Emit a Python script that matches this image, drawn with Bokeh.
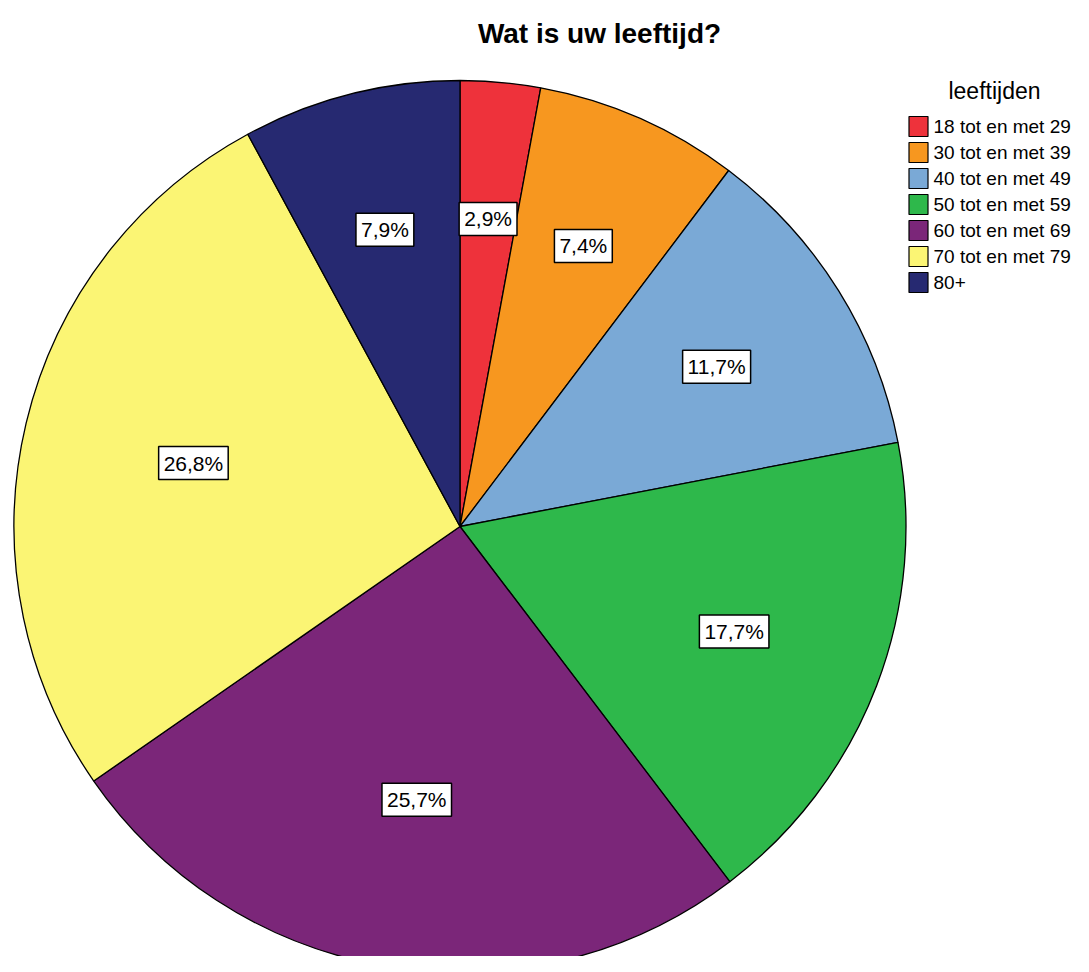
import math
from bokeh.plotting import figure
from bokeh.models import Range1d, ColumnDataSource
from bokeh.core.properties import value
from bokeh.embed import file_html
from bokeh.resources import INLINE

# ---- data ----
title_text = "Wat is uw leeftijd?"
legend_title = "leeftijden"
categories = ["18 tot en met 29", "30 tot en met 39", "40 tot en met 49",
              "50 tot en met 59", "60 tot en met 69", "70 tot en met 79", "80+"]
percentages = [2.9, 7.4, 11.7, 17.7, 25.7, 26.8, 7.9]
colors = ["#ee323b", "#f7971f", "#7aa9d6", "#2eb84b", "#7b2679", "#fbf574", "#262971"]

# ---- layout (pixel-like data units) ----
W, H = 1073, 956
cx_screen, cy_screen = 459.5, 526.0
R = 446
FONT = "Liberation Sans"

p = figure(width=W, height=H, output_backend="svg", toolbar_location=None,
           x_range=Range1d(0 - cx_screen, W - cx_screen),
           y_range=Range1d(cy_screen - H, cy_screen),
           min_border=0)
p.axis.visible = False
p.grid.visible = False
p.outline_line_color = None
p.background_fill_color = "white"
p.border_fill_color = "white"

total = sum(percentages)
starts, ends, lx, ly, labels = [], [], [], [], []
cum = 0.0
for v in percentages:
    a0 = math.pi / 2 - 2 * math.pi * cum / total
    cum += v
    a1 = math.pi / 2 - 2 * math.pi * cum / total
    starts.append(a0)
    ends.append(a1)
    mid = (a0 + a1) / 2
    half = (a0 - a1) / 2
    rc = 1.04 * 2 * R * math.sin(half) / (3 * half)  # sector centroid distance
    lx.append(rc * math.cos(mid))
    ly.append(rc * math.sin(mid))
    labels.append(("%.1f%%" % v).replace(".", ","))

src = ColumnDataSource(dict(start=starts, end=ends, color=colors,
                            lx=lx, ly=ly, label=labels, cat=categories))

p.wedge(x=0, y=0, radius=R, start_angle="start", end_angle="end",
        direction="clock", fill_color="color", line_color="black",
        line_width=1.3, source=src)

p.text(x="lx", y="ly", text="label", source=src,
       text_font=value(FONT), text_font_size="21px",
       text_align="center", text_baseline="middle", text_color="black",
       background_fill_color="white", border_line_color="black",
       border_line_width=1.5, padding=5)

# title
p.text(x=[599 - cx_screen], y=[cy_screen - 33], text=[title_text],
       text_font=value(FONT), text_font_size="28px", text_font_style="bold",
       text_align="center", text_baseline="middle", text_color="black")

# legend
p.text(x=[994 - cx_screen], y=[cy_screen - 90], text=[legend_title],
       text_font=value(FONT), text_font_size="23px",
       text_align="center", text_baseline="middle", text_color="black")

row_y = [cy_screen - (126 + 26 * i) for i in range(len(categories))]
leg = ColumnDataSource(dict(y=row_y, color=colors, cat=categories,
                            bx=[918 - cx_screen] * len(categories),
                            tx=[933 - cx_screen] * len(categories)))
p.rect(x="bx", y="y", width=19, height=20, fill_color="color",
       line_color="black", line_width=1.2, source=leg)
p.text(x="tx", y="y", text="cat", source=leg,
       text_font=value(FONT), text_font_size="19px",
       text_align="left", text_baseline="middle", text_color="black")

open("out.html", "w").write(file_html(p, INLINE))
